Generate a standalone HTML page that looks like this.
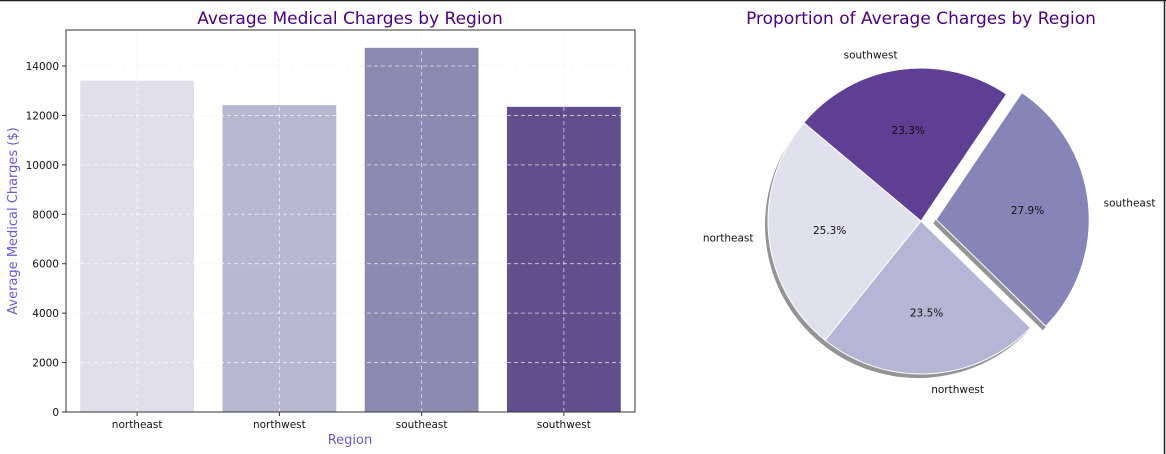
<!DOCTYPE html>
<html><head><meta charset="utf-8">
<style>
html,body{margin:0;padding:0;background:#fff;}
svg{display:block;font-family:"DejaVu Sans","Liberation Sans",sans-serif;}
</style></head>
<body>
<svg id="c" width="1166" height="454" viewBox="0 0 1166 454">
<rect x="0" y="0" width="1166" height="454" fill="#fff"/>
<line x1="0" y1="0.5" x2="1166" y2="0.5" stroke="#222" stroke-width="1.5"/>
<line x1="1164.5" y1="0" x2="1164.5" y2="454" stroke="#222" stroke-width="1.5"/>
<text x="350" y="24" text-anchor="middle" font-size="17" fill="#4b0082">Average Medical Charges by Region</text>
<text x="921" y="24" text-anchor="middle" font-size="17" fill="#4b0082">Proportion of Average Charges by Region</text>
<text x="350" y="444" text-anchor="middle" font-size="13" fill="#6a5acd">Region</text>
<text transform="translate(17,221) rotate(-90)" text-anchor="middle" font-size="13" fill="#6a5acd">Average Medical Charges ($)</text>
<g id="bars"></g>
<g id="pie"></g>
</svg>
<script>
const categories = ["northeast","northwest","southeast","southwest"];
const values = [13406, 12418, 14735, 12347];
const yTicks = [0,2000,4000,6000,8000,10000,12000,14000];
const barColors = ["#e1dfeb","#b9b8d2","#8c8ab1","#624e8c"];
const pieColors = ["#e1e1ee","#b5b5d5","#8784b8","#5e3f94"];

const NS="http://www.w3.org/2000/svg";
function mk(tag,attrs,parent){const e=document.createElementNS(NS,tag);for(const k in attrs)e.setAttribute(k,attrs[k]);parent.appendChild(e);return e;}
const L=66,R=635,T=30,B=412,yMax=15456;
const y=v=>B-(v/yMax)*(B-T);
const step=(R-L)/categories.length;
const x=i=>L+step*(i+0.5);
const g=document.getElementById('bars');
yTicks.forEach(t=>{const l=mk('line',{x1:L,x2:R,y1:y(t),y2:y(t),stroke:'#e4e4ee','stroke-dasharray':'4,3','stroke-width':0.8},g);

});
categories.forEach((c,i)=>{const l=mk('line',{x1:x(i),x2:x(i),y1:T,y2:B,stroke:'#e4e4ee','stroke-dasharray':'4,3','stroke-width':0.8},g);

});
categories.forEach((c,i)=>{
 const w=step*0.8;
 const r=mk('rect',{x:x(i)-w/2,y:y(values[i]),width:w,height:B-y(values[i]),fill:barColors[i]},g);
 
 
 const t=mk('text',{x:x(i),y:B+16,'text-anchor':'middle','font-size':10.5,fill:'#111'},g);t.textContent=c;
 
 
 mk('line',{x1:x(i),x2:x(i),y1:B,y2:B+4,stroke:'#333'},g);
});
yTicks.forEach(t=>{mk('line',{x1:L,x2:R,y1:y(t),y2:y(t),stroke:'#fff','stroke-opacity':0.75,'stroke-dasharray':'4,3','stroke-width':0.8},g);});
categories.forEach((c,i)=>{mk('line',{x1:x(i),x2:x(i),y1:T,y2:B,stroke:'#fff','stroke-opacity':0.75,'stroke-dasharray':'4,3','stroke-width':0.8},g);});
yTicks.forEach(t=>{
 mk('line',{x1:L-4,x2:L,y1:y(t),y2:y(t),stroke:'#333'},g);
 const tx=mk('text',{x:L-7,y:y(t)+4,'text-anchor':'end','font-size':10.5,fill:'#111'},g);tx.textContent=t;
 
 
});
const ax=mk('rect',{x:L,y:T,width:R-L,height:B-T,fill:'none',stroke:'#333','stroke-width':1},g);



const p=document.getElementById('pie');
const cx=921,cy=221,rad=153,start=140;
const explode=[0,0,0.1,0];
const total=values.reduce((a,b)=>a+b,0);
let a0=start;
const wedges=[];
values.forEach((v,i)=>{const sweep=v/total*360;wedges.push([a0,a0+sweep]);a0+=sweep;});
const pt=(ox,oy,r,a)=>[ox+r*Math.cos(a*Math.PI/180),oy-r*Math.sin(a*Math.PI/180)];
function path(ox,oy,s,e){const [x1,y1]=pt(ox,oy,rad,s),[x2,y2]=pt(ox,oy,rad,e);const large=(e-s)>180?1:0;
 return `M${ox},${oy} L${x1},${y1} A${rad},${rad} 0 ${large} 0 ${x2},${y2} Z`;}
wedges.forEach(([s,e],i)=>{const m=(s+e)/2;const [ox,oy]=pt(cx,cy,explode[i]*rad,m);
 mk('path',{d:path(ox-3,oy+4,s,e),fill:'#000','fill-opacity':0.42},p);});
wedges.forEach(([s,e],i)=>{const m=(s+e)/2;const [ox,oy]=pt(cx,cy,explode[i]*rad,m);
 const w=mk('path',{d:path(ox,oy,s,e),fill:pieColors[i],stroke:'#fff','stroke-width':1},p);
 
 
 const [lx,ly]=pt(ox,oy,rad*1.1,m);
 const c=Math.cos(m*Math.PI/180);
 const lt=mk('text',{x:lx,y:ly+4,'text-anchor':c>0?'start':'end','font-size':10.5,fill:'#111'},p);lt.textContent=categories[i];
 
 
 const [px,py]=pt(ox,oy,rad*0.6,m);
 const pc=mk('text',{x:px,y:py+4,'text-anchor':'middle','font-size':10.5,fill:'#111'},p);pc.textContent=(values[i]/total*100).toFixed(1)+'%';
 
 
});
</script>
</body></html>
